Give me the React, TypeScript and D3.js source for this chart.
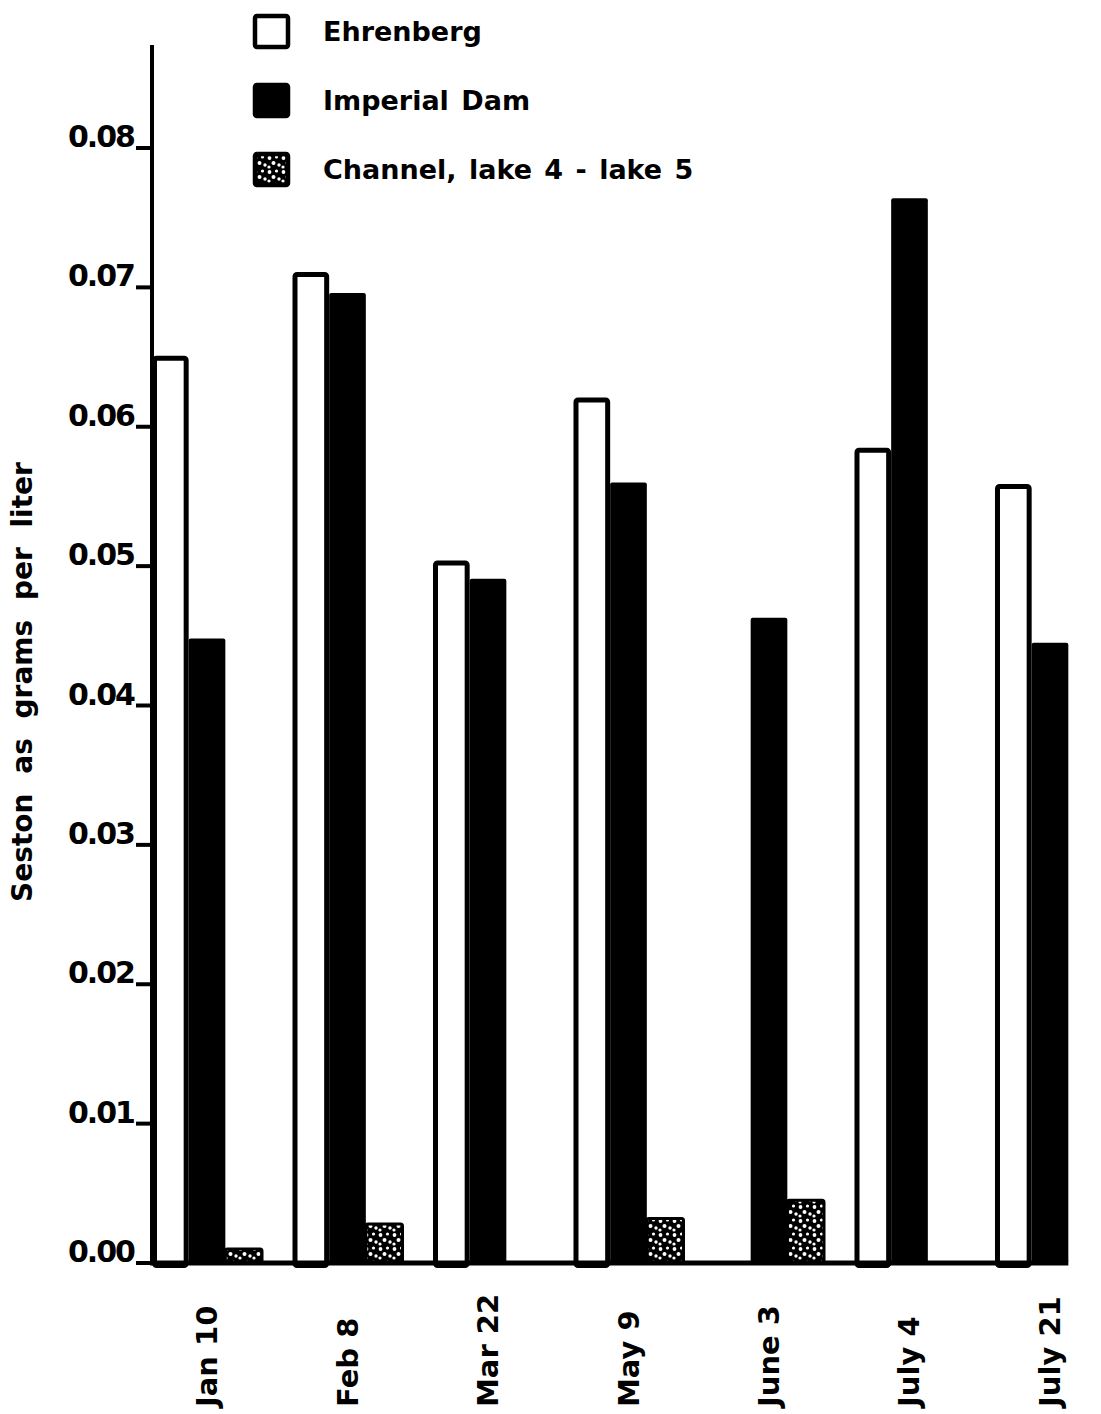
import React from 'react';
import * as d3 from 'd3';

// seston, grams per liter
const dates = ['Jan 10', 'Feb 8', 'Mar 22', 'May 9', 'June 3', 'July 4', 'July 21'];
const ehrenberg = [0.0651, 0.0711, 0.0504, 0.0621, null, 0.0585, 0.0559];
const imperialDam = [0.0448, 0.0696, 0.0491, 0.056, 0.0463, 0.0764, 0.0445];
const channel = [0.001, 0.0028, null, 0.0032, 0.0045, null, null];
const seriesNames = ['Ehrenberg', 'Imperial Dam', 'Channel, lake 4 - lake 5'];
const yTicks = [0, 0.01, 0.02, 0.03, 0.04, 0.05, 0.06, 0.07, 0.08];

const FONT = '"DejaVu Sans", sans-serif';

const App = () => {
  const Width = 1101;
  const Height = 1414;
  const axisX = 152;
  const baseY = 1263;

  const yScale = d3.scaleLinear().domain([0, 0.08]).range([baseY, 148]);
  const xScale = d3
    .scaleBand<string>()
    .domain(dates)
    .range([axisX, 1105])
    .paddingInner(0.217)
    .paddingOuter(0)
    .align(0);
  const sub = d3
    .scaleBand<string>()
    .domain(seriesNames)
    .range([0, xScale.bandwidth()]);
  const bw = sub.bandwidth();

  const seriesValues = [ehrenberg, imperialDam, channel];
  const fills = ['#fff', '#000', 'url(#stipple)'];

  const bars = dates.map((d, i) => (
    <g key={d}>
      {seriesValues.map((vals, s) => {
        const v = vals[i];
        if (v == null) return null;
        const x0 = (xScale(d) as number) + (sub(seriesNames[s]) as number);
        const y0 = yScale(v);
        if (s === 0) {
          return (
            <rect key={s} x={x0 + 2.5} y={y0 + 2.5} width={bw - 5} height={baseY - y0}
              fill="#fff" stroke="#000" strokeWidth={5} rx={2} />
          );
        }
        return (
          <rect key={s} x={x0} y={y0} width={bw} height={baseY - y0} fill={fills[s]}
            stroke="#000" strokeWidth={s === 2 ? 3 : 0} rx={2} />
        );
      })}
    </g>
  ));

  const lastX = (xScale(dates[dates.length - 1]) as number) + 2 * bw;

  const xLabels = dates.map((d) => {
    const cx = (xScale(d) as number) + xScale.bandwidth() / 2 + 10;
    return (
      <text key={d} transform={`translate(${cx}, 1407) rotate(-90)`} textAnchor="start"
        style={{ fontSize: '29px', fontWeight: 'bold', fontFamily: FONT }}>
        {d}
      </text>
    );
  });

  const yAxis = yTicks.map((t) => (
    <g key={t} transform={`translate(0, ${yScale(t)})`}>
      <line x1={axisX - 16} x2={axisX} y1={0} y2={0} stroke="#000" strokeWidth={4} />
      <text x={axisX - 18} y={-1} textAnchor="end" letterSpacing={-2}
        style={{ fontSize: '30px', fontWeight: 'bold', fontFamily: FONT }}>
        {d3.format('.2f')(t)}
      </text>
    </g>
  ));

  const legendRows = [31, 100, 169];
  const legend = seriesNames.map((name, i) => (
    <g key={name} transform={`translate(253, ${legendRows[i]})`}>
      <rect x={2} y={-15} width={33} height={31} fill={fills[i]} stroke="#000" strokeWidth={4.5} rx={2} />
      <text x={70} y={10} wordSpacing={3}
        style={{ fontSize: '27px', fontWeight: 'bold', fontFamily: FONT }}>
        {name}
      </text>
    </g>
  ));

  return (
    <svg width={Width} height={Height} style={{ position: 'absolute', left: 0, top: 0, background: '#fff' }}>
      <defs>
        <pattern id="stipple" width={14} height={14} patternUnits="userSpaceOnUse">
          <rect width={14} height={14} fill="#000" />
          <circle cx={2.5} cy={3} r={1.9} fill="#fff" />
          <circle cx={9.5} cy={2} r={1.6} fill="#fff" />
          <circle cx={6.5} cy={8} r={2} fill="#fff" />
          <circle cx={12} cy={10} r={1.7} fill="#fff" />
          <circle cx={2} cy={12} r={1.6} fill="#fff" />
        </pattern>
      </defs>
      <g>{bars}</g>
      <line x1={axisX} x2={axisX} y1={45} y2={baseY + 2} stroke="#000" strokeWidth={4} />
      <line x1={axisX - 2} x2={lastX} y1={baseY} y2={baseY} stroke="#000" strokeWidth={5} />
      <g>{yAxis}</g>
      <g>{xLabels}</g>
      <text transform={`translate(32, 682) rotate(-90)`} textAnchor="middle" wordSpacing={10}
        style={{ fontSize: '28px', fontWeight: 'bold', fontFamily: FONT }}>
        Seston as grams per liter
      </text>
      <g>{legend}</g>
    </svg>
  );
};

export default App;
